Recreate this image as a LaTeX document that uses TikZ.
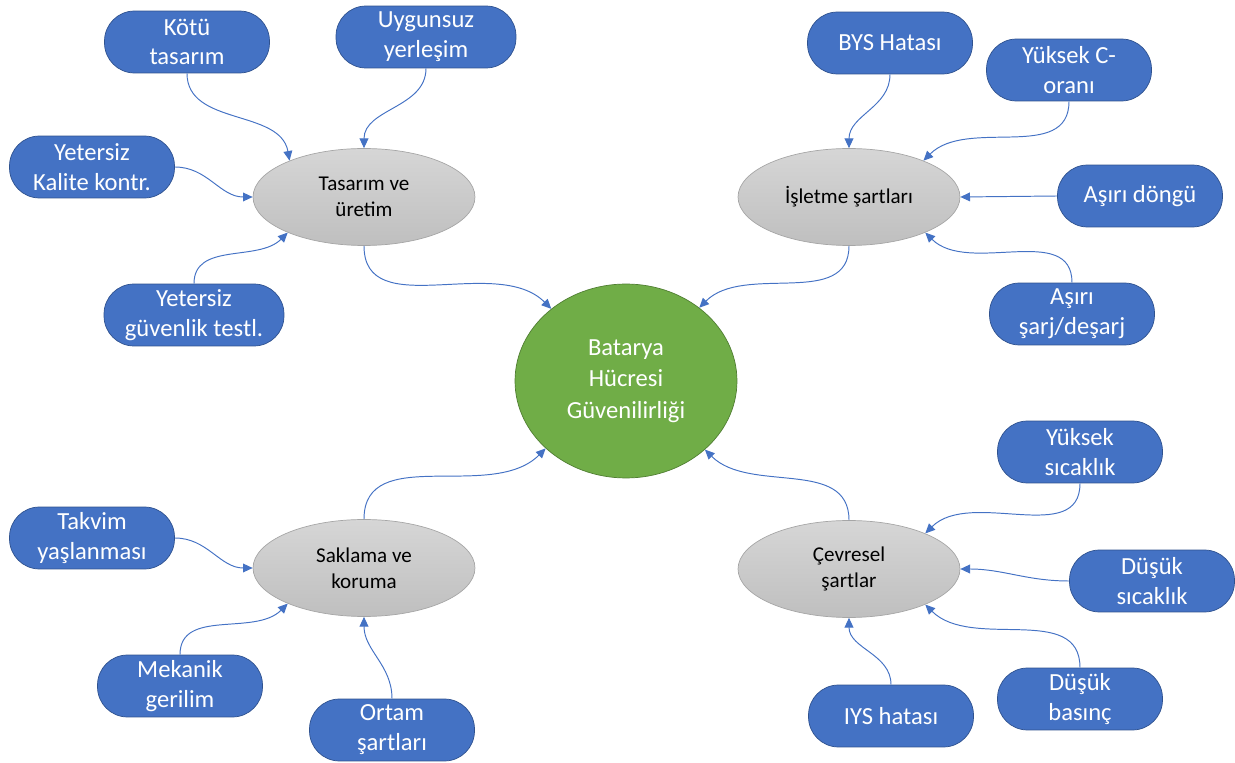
\documentclass[tikz,border=0pt]{standalone}
\usepackage{fontspec}
\setmainfont{Carlito}
\usetikzlibrary{arrows.meta,positioning,shapes.geometric}
\definecolor{boxblue}{HTML}{4472C4}
\definecolor{boxedge}{HTML}{2F528F}
\definecolor{hubgreen}{HTML}{70AD47}
\definecolor{hubedge}{HTML}{507E32}
\definecolor{grouptop}{HTML}{D6D6D6}
\definecolor{groupbot}{HTML}{BFBFBF}
\definecolor{groupedge}{HTML}{A6A6A6}

\begin{document}
\begin{tikzpicture}[x=0.02cm,y=0.02cm,
  cause/.style={draw=boxedge,fill=boxblue,text=white,rounded corners=0.6cm,
    minimum width=3.3cm,minimum height=1.24cm,align=center,inner sep=2pt,
    font=\fontsize{14}{17}\selectfont},
  group/.style={ellipse,draw=groupedge,top color=grouptop,bottom color=groupbot,
    minimum width=4.44cm,minimum height=1.94cm,inner sep=0pt,align=center,
    font=\fontsize{12}{14.6}\selectfont},
  hub/.style={ellipse,draw=hubedge,fill=hubgreen,text=white,
    minimum width=4.44cm,minimum height=3.88cm,inner sep=0pt,align=center,
    font=\fontsize{14}{18}\selectfont},
  link/.style={draw=boxblue,line width=0.55pt,-{Triangle[length=5.5pt,width=5pt]}}]
\useasboundingbox (0,0) rectangle (1235,-763);

% center and the four groups
\node[hub] (cell) at (626,-381) {Batarya\\Hücresi\\Güvenilirliği};
\node[group] (design) at (364,-197) {Tasarım ve\\üretim};
\node[group] (operation) at (849,-197) {İşletme şartları};
\node[group] (storage) at (364,-568) {Saklama ve\\koruma};
\node[group] (environment) at (849,-569) {Çevresel\\şartlar};

% causes
\node[cause] (kotu) at (187,-42) {Kötü\\tasarım};
\node[cause,minimum width=3.6cm] (uygunsuz) at (426,-37) {Uygunsuz\\yerleşim};
\node[cause] (kalite) at (92,-167) {Yetersiz\\Kalite kontr.};
\node[cause,minimum width=3.6cm] (testl) at (194,-315) {Yetersiz\\güvenlik testl.};

\node[cause] (bys) at (890,-43) {BYS Hatası};
\node[cause] (coran) at (1069,-70) {Yüksek C-\\oranı};
\node[cause] (dongu) at (1140,-196) {Aşırı döngü};
\node[cause] (sarj) at (1072,-314) {Aşırı\\şarj/deşarj};

\node[cause] (takvim) at (92,-538) {Takvim\\yaşlanması};
\node[cause] (mekanik) at (180,-686) {Mekanik\\gerilim};
\node[cause] (ortam) at (392,-730) {Ortam\\şartları};

\node[cause] (yuksek) at (1080,-452) {Yüksek\\sıcaklık};
\node[cause] (dusuk) at (1152,-581) {Düşük\\sıcaklık};
\node[cause] (basinc) at (1080,-699) {Düşük\\basınç};
\node[cause] (iys) at (891,-716) {IYS hatası};

% groups into the center
\draw[link] (design.south) to[out=-90,in=135] (cell.136);
\draw[link] (operation.south) to[out=-90,in=45] (cell.45);
\draw[link] (storage.north) to[out=90,in=225] (cell.220);
\draw[link] (environment.north) to[out=90,in=-45] (cell.319);

% causes into the groups
\draw[link] (kotu.south) to[out=-90,in=100] (design.154);
\draw[link] (uygunsuz.south) to[out=-90,in=90] (design.north);
\draw[link] (kalite.east) to[out=0,in=180] (design.west);
\draw[link] (testl.north) to[out=90,in=-135] (design.205);

\draw[link] (bys.south) to[out=-90,in=90] (operation.north);
\draw[link] (coran.south) to[out=-90,in=45] (operation.26);
\draw[link] (dongu.west) -- (operation.east);
\draw[link] (sarj.north) to[out=90,in=-45] (operation.335);

\draw[link] (takvim.east) to[out=0,in=180] (storage.west);
\draw[link] (mekanik.north) to[out=90,in=-135] (storage.205);
\draw[link] (ortam.north) to[out=90,in=-90] (storage.south);

\draw[link] (yuksek.south) to[out=-90,in=45] (environment.25);
\draw[link] (dusuk.west) to[out=180,in=0] (environment.east);
\draw[link] (basinc.north) to[out=90,in=-45] (environment.335);
\draw[link] (iys.north) to[out=90,in=-90] (environment.south);
\end{tikzpicture}
\end{document}
